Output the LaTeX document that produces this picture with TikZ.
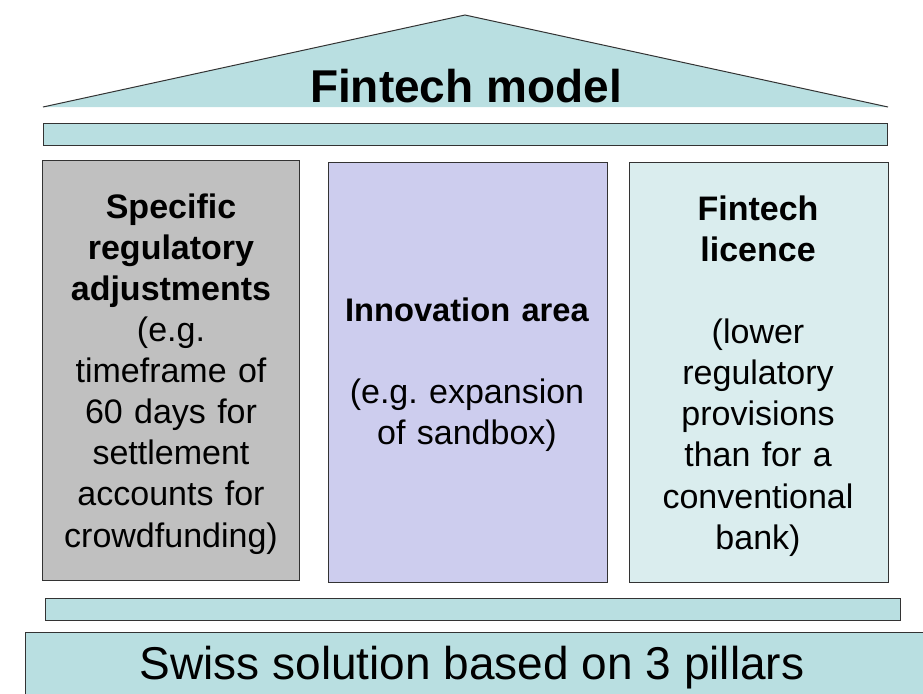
\documentclass[tikz,border=0pt]{standalone}
\usepackage{fontspec}
\setmainfont{Liberation Sans}
\frenchspacing
\definecolor{teal}{HTML}{B9DFE1}
\definecolor{greypillar}{HTML}{C0C0C0}
\definecolor{lilac}{HTML}{CDCDEE}
\definecolor{paleteal}{HTML}{DAEDEE}
\definecolor{edge}{HTML}{333333}
\begin{document}
\begin{tikzpicture}[x=0.75pt,y=-0.75pt,
  part/.style={draw=edge,line width=0.75pt},
  pillartext/.style={align=center,text width=270*0.75pt,inner sep=0pt,
    font=\fontsize{25.5pt}{30.8pt}\selectfont},
  bigtext/.style={inner sep=0pt,font=\fontsize{34.5pt}{40pt}\selectfont}]
\useasboundingbox (0,0) rectangle (923,693);
% roof
\fill[teal] (43,107) -- (465,15) -- (888,107) -- cycle;
\draw[part] (43,107) -- (465,15) -- (888,107);
\node[bigtext,font=\fontsize{34.5pt}{40pt}\selectfont\bfseries] (roof) at (466,86) {Fintech model};
% upper beam
\draw[part,fill=teal] (43,123) rectangle (887,145);
% pillars
\draw[part,fill=greypillar] (42,160) rectangle (299,580);
\draw[part,fill=lilac] (328,162) rectangle (607,582);
\draw[part,fill=paleteal] (629,162) rectangle (888,582);
\node[pillartext] (left) at (171,374) {\textbf{Specific}\\\textbf{regulatory}\\\textbf{adjustments}\\(e.g.\\timeframe of\\60 days for\\settlement\\accounts for\\crowdfunding)};
\node[pillartext] (middle) at (467,375) {\textbf{\fontsize{24.5pt}{30.8pt}\selectfont Innovation area}\\[30.8pt](e.g. expansion\\of sandbox)};
\node[pillartext] (right) at (758,376) {\textbf{Fintech}\\\textbf{licence}\\[30.8pt](lower\\regulatory\\provisions\\than for a\\conventional\\bank)};
% lower beam
\draw[part,fill=teal] (45,598) rectangle (900,620);
% base
\draw[part,fill=teal] (25,632) rectangle (940,710);
\node[bigtext] (base) at (472,668) {Swiss solution based on 3 pillars};
\end{tikzpicture}
\end{document}
